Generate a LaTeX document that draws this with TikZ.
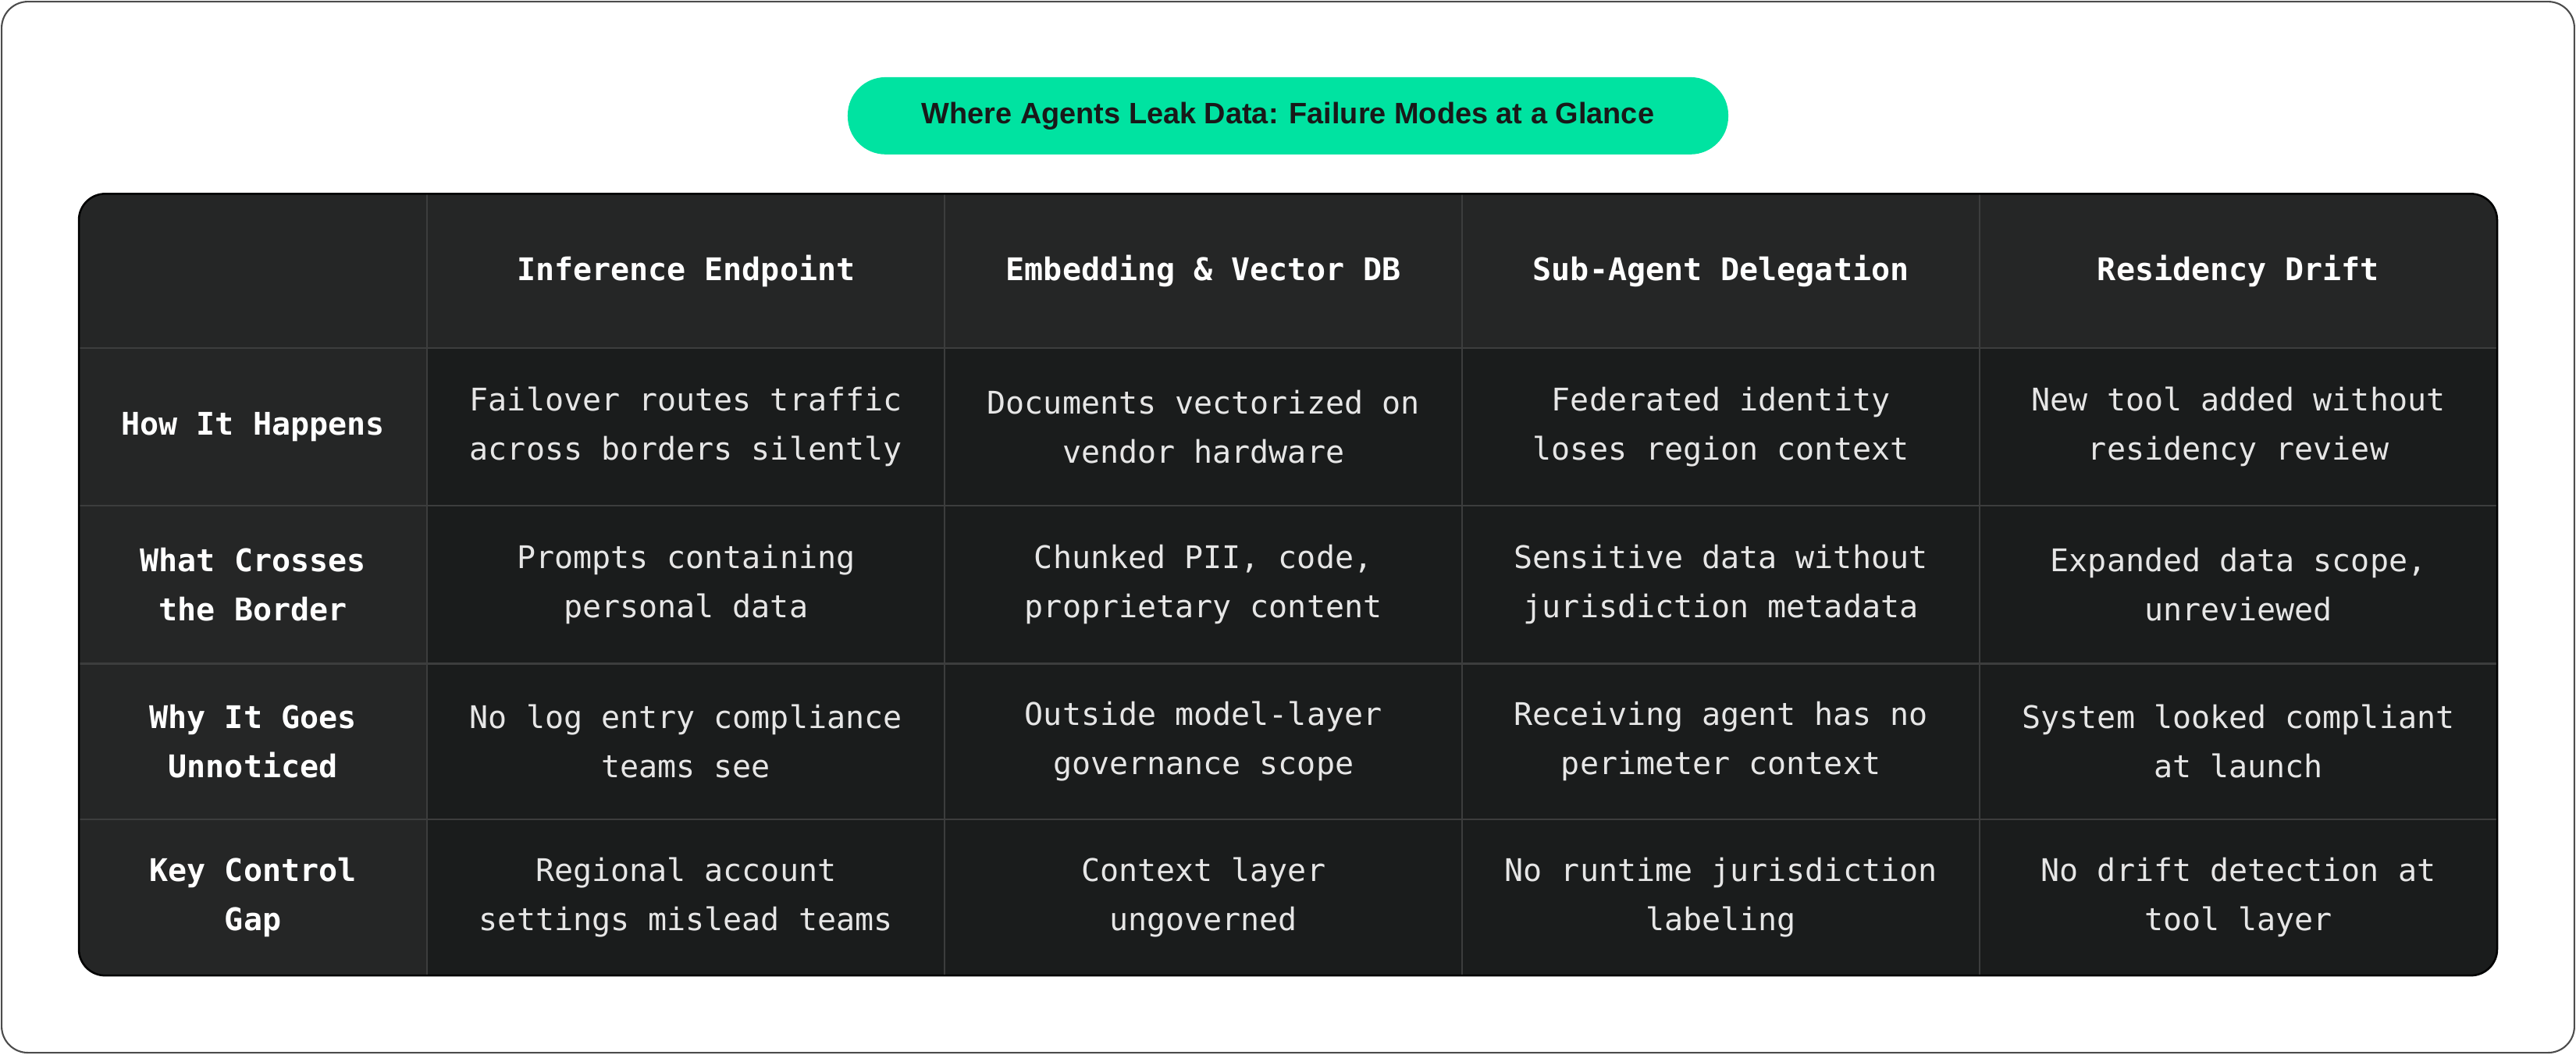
\documentclass[tikz,border=0pt]{standalone}
\usepackage{fontspec}
\setmainfont{Liberation Sans}
\setmonofont{DejaVu Sans Mono}
\definecolor{green}{HTML}{00E3A1}
\definecolor{tbl}{HTML}{1A1C1C}
\definecolor{hdr}{HTML}{252626}
\definecolor{grid}{HTML}{3C3D3D}
\definecolor{txt}{HTML}{E6E6E6}
\begin{document}
\begin{tikzpicture}[x=1pt,y=-1pt,
  cell/.style={align=center,font=\ttfamily\fontsize{19}{30}\selectfont,text=txt},
  head/.style={align=center,font=\ttfamily\bfseries\fontsize{19}{30}\selectfont,text=white}]
\useasboundingbox (0,0) rectangle (1568,642);
\draw[black!70,line width=1pt,rounded corners=16] (1,1) rectangle (1567,641);
\node[fill=green,rounded corners=23,minimum width=536,minimum height=47,inner sep=0,
  font=\fontsize{18}{20}\selectfont\bfseries,text=black!90] (title) at (784,70.5)
  {Where Agents Leak Data: Failure Modes at a Glance};
\begin{scope}
\clip[rounded corners=16] (48,118) rectangle (1520,594);
\fill[tbl] (48,118) rectangle (1520,594);
\fill[hdr] (48,118) rectangle (1520,212);
\fill[hdr] (48,212) rectangle (260,594);
\foreach \x in {260,575,890,1205} \draw[grid,line width=1.2pt] (\x,118) -- (\x,594);
\foreach \y in {212,308,404,499} \draw[grid,line width=1.2pt] (48,\y) -- (1520,\y);
\end{scope}
\draw[black,line width=1.2pt,rounded corners=16] (48,118) rectangle (1520,594);
\node[head] (h1) at (417.5,165) {Inference Endpoint};
\node[head] (h2) at (732.5,165) {Embedding \& Vector DB};
\node[head] (h3) at (1047.5,165) {Sub-Agent Delegation};
\node[head] (h4) at (1362.5,165) {Residency Drift};
\node[head] (r1) at (154,260) {How It Happens};
\node[head] (r2) at (154,356) {What Crosses\\the Border};
\node[head] (r3) at (154,451.5) {Why It Goes\\Unnoticed};
\node[head] (r4) at (154,546.5) {Key Control\\Gap};
\node[cell] (c11) at (417.5,260) {Failover routes traffic\\across borders silently};
\node[cell] (c12) at (732.5,260) {Documents vectorized on\\vendor hardware};
\node[cell] (c13) at (1047.5,260) {Federated identity\\loses region context};
\node[cell] (c14) at (1362.5,260) {New tool added without\\residency review};
\node[cell] (c21) at (417.5,356) {Prompts containing\\personal data};
\node[cell] (c22) at (732.5,356) {Chunked PII, code,\\proprietary content};
\node[cell] (c23) at (1047.5,356) {Sensitive data without\\jurisdiction metadata};
\node[cell] (c24) at (1362.5,356) {Expanded data scope,\\unreviewed};
\node[cell] (c31) at (417.5,451.5) {No log entry compliance\\teams see};
\node[cell] (c32) at (732.5,451.5) {Outside model-layer\\governance scope};
\node[cell] (c33) at (1047.5,451.5) {Receiving agent has no\\perimeter context};
\node[cell] (c34) at (1362.5,451.5) {System looked compliant\\at launch};
\node[cell] (c41) at (417.5,546.5) {Regional account\\settings mislead teams};
\node[cell] (c42) at (732.5,546.5) {Context layer\\ungoverned};
\node[cell] (c43) at (1047.5,546.5) {No runtime jurisdiction\\labeling};
\node[cell] (c44) at (1362.5,546.5) {No drift detection at\\tool layer};
\end{tikzpicture}
\end{document}
